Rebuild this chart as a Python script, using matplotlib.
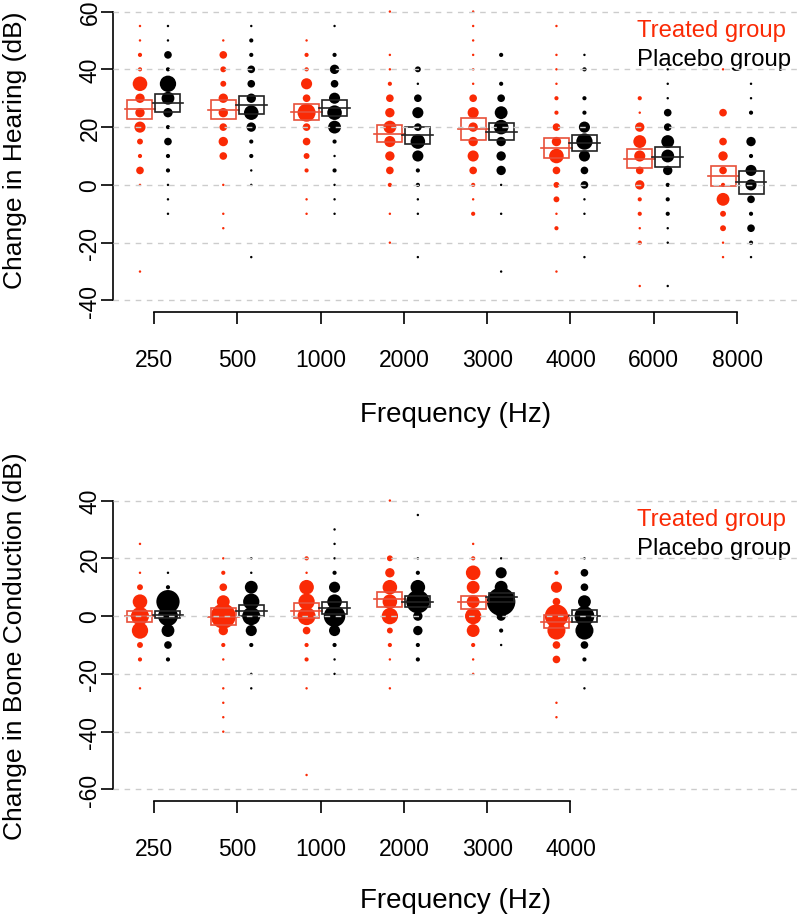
import numpy as np
import matplotlib
matplotlib.use("Agg")
import matplotlib.pyplot as plt
from matplotlib.patches import Rectangle

plt.rcParams['font.family'] = ['Liberation Sans', 'DejaVu Sans']
plt.rcParams['axes.unicode_minus'] = False

# ---- data: top panel (air conduction hearing) ----
top_freqs = ['250', '500', '1000', '2000', '3000', '4000', '6000', '8000']
top_levels = [60, 55, 50, 45, 40, 35, 30, 25, 20, 15, 10, 5, 0, -5, -10, -15, -20, -25, -30, -35]
# number of ears at each level (one row per frequency)
top_treated_counts = [
    [0, 1, 1, 2, 2, 8, 5, 5, 6, 3, 2, 4, 1, 0, 0, 0, 0, 0, 1, 0],
    [0, 0, 1, 4, 3, 3, 5, 5, 4, 5, 4, 0, 1, 0, 1, 1, 0, 0, 0, 0],
    [0, 0, 1, 2, 2, 6, 4, 10, 4, 4, 3, 2, 0, 1, 1, 0, 0, 0, 0, 0],
    [1, 0, 0, 1, 1, 2, 4, 5, 7, 6, 5, 4, 2, 0, 1, 0, 1, 0, 0, 0],
    [1, 1, 1, 1, 1, 1, 4, 6, 5, 5, 6, 4, 2, 1, 2, 0, 0, 0, 0, 0],
    [0, 1, 0, 1, 1, 1, 2, 2, 4, 5, 8, 4, 3, 3, 1, 2, 0, 0, 1, 0],
    [0, 0, 0, 0, 0, 0, 2, 1, 5, 7, 6, 4, 5, 2, 2, 1, 2, 0, 0, 1],
    [0, 0, 0, 0, 1, 0, 0, 4, 0, 4, 5, 4, 2, 7, 3, 3, 1, 1, 0, 0],
]
top_placebo_counts = [
    [0, 1, 1, 4, 2, 9, 7, 5, 2, 4, 2, 2, 1, 1, 1, 0, 0, 0, 0, 0],
    [0, 1, 2, 2, 4, 4, 5, 8, 5, 2, 2, 1, 1, 0, 0, 0, 0, 1, 0, 0],
    [0, 1, 0, 2, 5, 4, 6, 8, 7, 2, 1, 2, 1, 1, 1, 0, 0, 0, 0, 0],
    [0, 0, 0, 0, 3, 1, 4, 6, 4, 8, 6, 2, 2, 1, 1, 0, 0, 1, 0, 0],
    [0, 0, 0, 2, 0, 2, 4, 7, 8, 5, 5, 5, 1, 0, 1, 0, 0, 0, 1, 0],
    [0, 0, 0, 1, 2, 0, 2, 2, 6, 9, 6, 4, 4, 1, 1, 0, 0, 1, 0, 0],
    [0, 0, 0, 0, 1, 1, 1, 4, 4, 7, 7, 5, 2, 2, 2, 1, 1, 0, 0, 1],
    [0, 0, 0, 0, 0, 1, 1, 2, 0, 5, 2, 6, 6, 4, 2, 4, 2, 1, 0, 0],
]
top_treated_mean = [26.1, 26.0, 25.2, 17.7, 19.4, 12.8, 9.1, 3.1]
top_treated_se = [3.3, 3.3, 2.9, 3.0, 3.7, 3.5, 3.2, 3.5]
top_placebo_mean = [28.2, 27.6, 26.6, 17.2, 18.4, 14.6, 9.7, 0.9]
top_placebo_se = [3.1, 3.2, 2.7, 3.0, 3.0, 2.8, 3.5, 3.9]

# ---- data: bottom panel (bone conduction) ----
bot_freqs = ['250', '500', '1000', '2000', '3000', '4000']
bot_levels = [40, 35, 30, 25, 20, 15, 10, 5, 0, -5, -10, -15, -20, -25, -30, -35, -40, -45, -50, -55]
bot_treated_counts = [
    [0, 0, 0, 1, 0, 1, 3, 8, 10, 9, 3, 2, 0, 1, 0, 0, 0, 0, 0, 0],
    [0, 0, 0, 0, 1, 2, 4, 7, 14, 5, 2, 1, 0, 1, 1, 1, 1, 0, 0, 0],
    [0, 0, 0, 0, 2, 1, 8, 9, 10, 4, 2, 2, 0, 1, 0, 0, 0, 0, 0, 1],
    [1, 0, 0, 0, 3, 5, 8, 8, 9, 3, 2, 1, 0, 1, 0, 0, 0, 0, 0, 0],
    [0, 0, 0, 1, 2, 8, 7, 7, 9, 7, 2, 1, 1, 0, 0, 0, 0, 0, 0, 0],
    [0, 0, 0, 0, 0, 2, 6, 4, 13, 10, 4, 4, 0, 0, 1, 1, 0, 0, 0, 0],
]
bot_placebo_counts = [
    [0, 0, 0, 0, 0, 1, 2, 13, 11, 7, 4, 2, 0, 0, 0, 0, 0, 0, 0, 0],
    [0, 0, 0, 0, 1, 1, 7, 9, 10, 6, 2, 0, 1, 1, 0, 0, 0, 0, 0, 0],
    [0, 0, 1, 1, 1, 2, 6, 8, 12, 6, 2, 1, 1, 0, 0, 0, 0, 0, 0, 0],
    [0, 1, 0, 0, 1, 2, 8, 13, 5, 5, 2, 2, 0, 0, 0, 0, 0, 0, 0, 0],
    [0, 0, 0, 0, 1, 6, 7, 16, 5, 2, 1, 0, 0, 0, 0, 0, 0, 0, 0, 0],
    [0, 0, 0, 0, 1, 4, 4, 7, 11, 10, 4, 2, 0, 1, 0, 0, 0, 0, 0, 0],
]
bot_treated_mean = [0.0, -0.2, 1.8, 5.8, 4.8, -1.9]
bot_treated_se = [1.9, 2.9, 2.6, 2.6, 2.2, 2.2]
bot_placebo_mean = [0.5, 1.9, 2.9, 5.0, 6.5, 0.0]
bot_placebo_se = [1.3, 1.9, 2.0, 2.0, 1.5, 2.0]

RED = '#FA2A05'
BLACK = 'black'
W, H = 799, 920

fig = plt.figure(figsize=(W / 100, H / 100), dpi=100)


def px_axes(left, top, right, bottom):
    return fig.add_axes([left / W, 1 - bottom / H, (right - left) / W, (bottom - top) / H])


def draw_panel(ax, freqs, levels, tr_counts, pl_counts, tr_mean, tr_se, pl_mean, pl_se, yticks):
    pos = np.arange(1, len(freqs) + 1)
    off = 0.168
    for i, p in enumerate(pos):
        for counts, col, dx in [(tr_counts[i], RED, -off), (pl_counts[i], BLACK, off)]:
            c = np.array(counts, dtype=float)
            lv = np.array(levels, dtype=float)
            m = c > 0
            d = 1.25 * c[m] + 0.5
            ax.scatter(np.full(m.sum(), p + dx), lv[m], s=d ** 2, color=col,
                       linewidths=0, zorder=2)
        for mean, se, ecol, dx in [(tr_mean[i], tr_se[i], '#E8503A', -off),
                                   (pl_mean[i], pl_se[i], '#222222', off)]:
            ax.add_patch(Rectangle((p + dx - 0.15, mean - se), 0.30, 2 * se, fill=False,
                                   edgecolor=ecol, lw=1.2, zorder=3))
            ax.plot([p + dx - 0.185, p + dx + 0.185], [mean, mean], color=ecol, lw=1.2, zorder=3)
    for y in yticks:
        ax.axhline(y, color='#CCCCCC', lw=1.0, ls=(0, (4, 4)), zorder=4)

    ax.set_xlim(0.508, 8.744)
    ax.set_xticks(pos, freqs, fontsize=16.5)
    ax.set_yticks(yticks, [str(t) for t in yticks], fontsize=16.5, rotation=90,
                  ha='center', va='center')
    for s in ['top', 'right']:
        ax.spines[s].set_visible(False)
    ax.spines['left'].set_bounds(min(yticks), max(yticks))
    ax.spines['bottom'].set_bounds(pos[0], pos[-1])
    for s in ['left', 'bottom']:
        ax.spines[s].set_linewidth(1.2)
    ax.tick_params(axis='x', length=8.6, width=1.2, pad=17.5)
    ax.tick_params(axis='y', length=8.6, width=1.2, pad=8)
    ax.text(0.764, 0.904, 'Treated group', transform=ax.transAxes, color=RED,
            fontsize=17.2, ha='left', va='center')
    ax.text(0.764, 0.811, 'Placebo group', transform=ax.transAxes, color=BLACK,
            fontsize=17.2, ha='left', va='center')


ax1 = px_axes(113, 1, 799, 313)
ax1.set_ylim(-44, 64)
draw_panel(ax1, top_freqs, top_levels, top_treated_counts, top_placebo_counts,
           top_treated_mean, top_treated_se, top_placebo_mean, top_placebo_se,
           [-40, -20, 0, 20, 40, 60])

ax2 = px_axes(113, 490, 799, 802)
ax2.set_ylim(-64, 44)
draw_panel(ax2, bot_freqs, bot_levels, bot_treated_counts, bot_placebo_counts,
           bot_treated_mean, bot_treated_se, bot_placebo_mean, bot_placebo_se,
           [-60, -40, -20, 0, 20, 40])

fig.text(456 / W, 1 - 415 / H, 'Frequency (Hz)', ha='center', va='center', fontsize=20)
fig.text(456 / W, 1 - 901 / H, 'Frequency (Hz)', ha='center', va='center', fontsize=20)
fig.text(15 / W, 1 - 150 / H, 'Change in Hearing (dB)', ha='center', va='center',
         rotation=90, fontsize=19)
fig.text(15 / W, 1 - 646 / H, 'Change in Bone Conduction (dB)', ha='center', va='center',
         rotation=90, fontsize=19)

fig.savefig('out.png', dpi=100)
